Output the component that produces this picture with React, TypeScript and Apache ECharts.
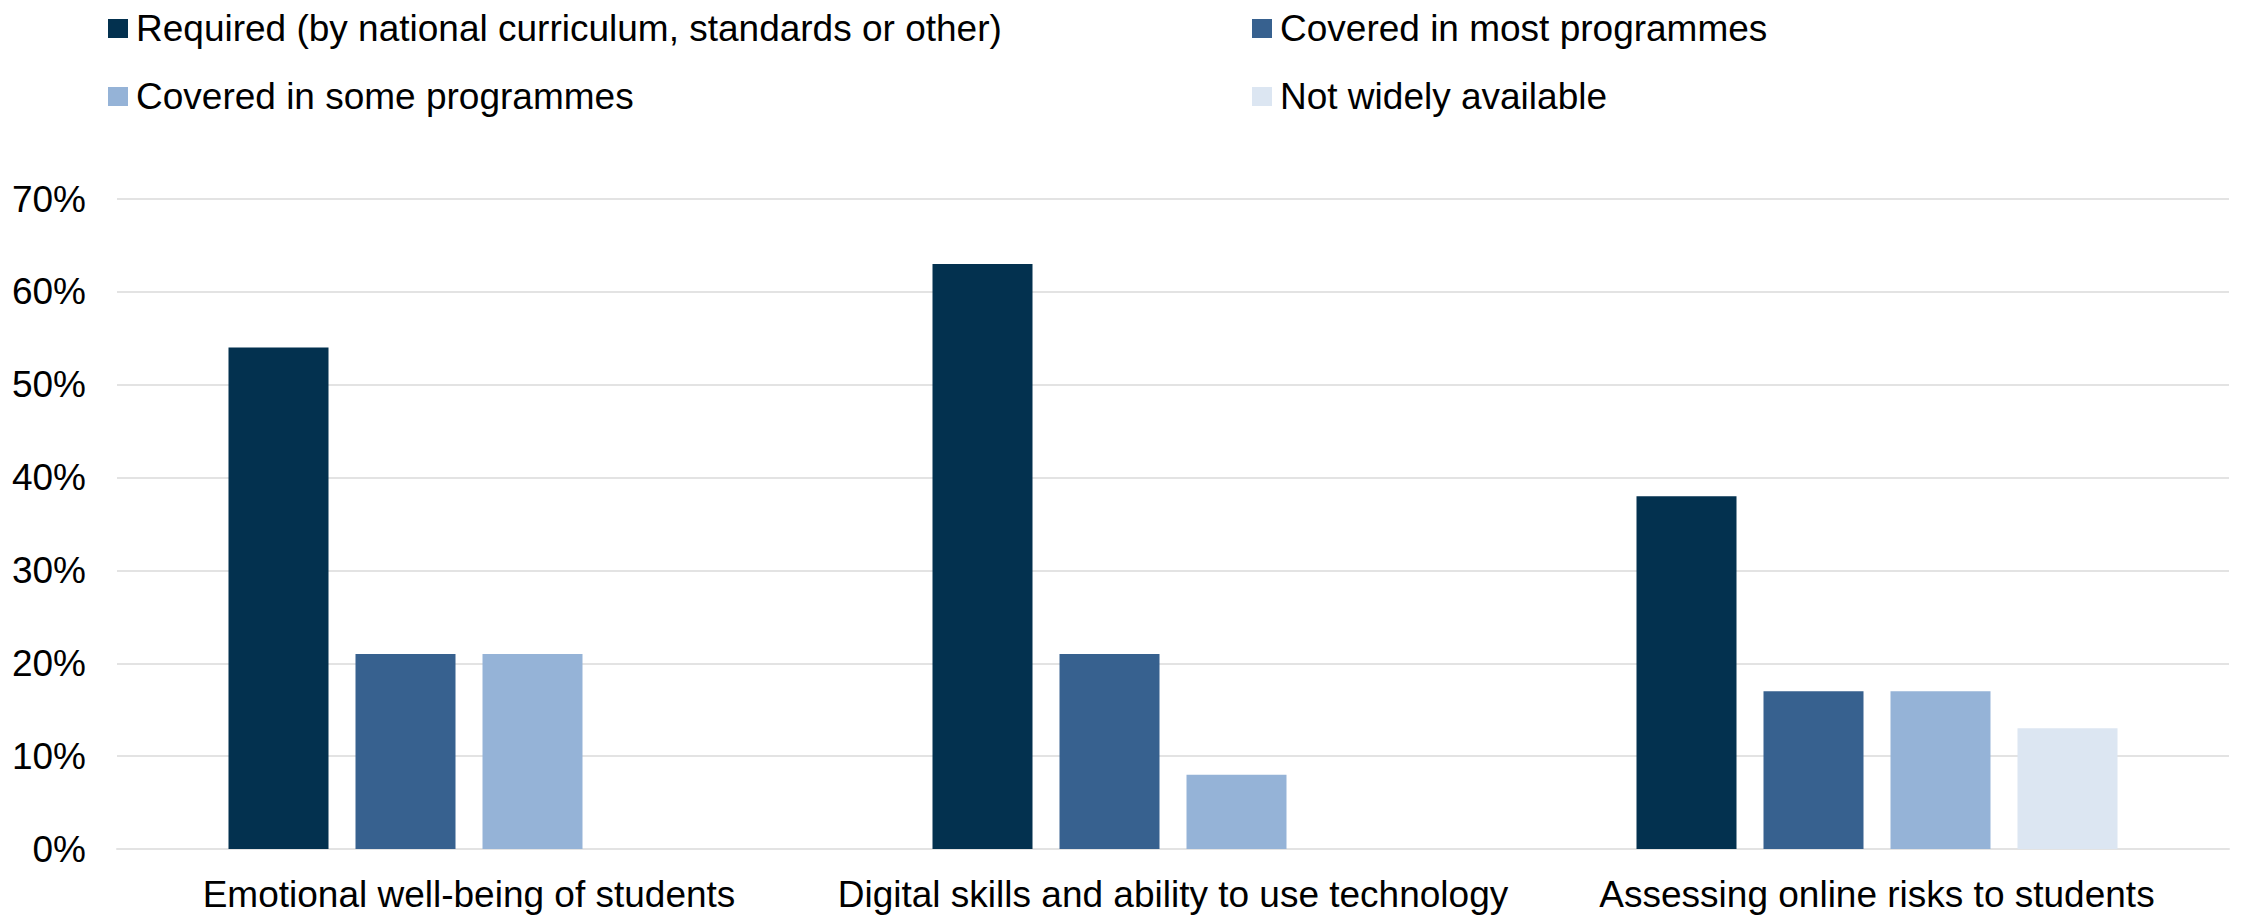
import React, { useEffect, useRef } from "react";
import * as echarts from "echarts";

const categories = [
  "Emotional well-being of students",
  "Digital skills and ability to use technology",
  "Assessing online risks to students",
];
const seriesNames = [
  "Required (by national curriculum, standards or other)",
  "Covered in most programmes",
  "Covered in some programmes",
  "Not widely available",
];
const required = [54, 63, 38];
const coveredMost = [21, 21, 17];
const coveredSome = [21, 8, 17];
const notWidely: (number | null)[] = [null, null, 13];
const colors = ["#03314F", "#37618F", "#95B3D7", "#DCE6F2"];

export default function App() {
  const ref = useRef<HTMLDivElement>(null);
  useEffect(() => {
    if (!ref.current) return;
    const chart = echarts.init(ref.current, null, { renderer: "svg" });
    const font = "'Liberation Sans', Arial, sans-serif";
    const values = [required, coveredMost, coveredSome, notWidely];
    const legendPos = [
      { left: 108, top: 10 },
      { left: 1252, top: 10 },
      { left: 108, top: 78 },
      { left: 1252, top: 78 },
    ];
    chart.setOption({
      animation: false,
      backgroundColor: "#ffffff",
      textStyle: { fontFamily: font },
      legend: seriesNames.map((n, i) => ({
        data: [n],
        left: legendPos[i].left,
        top: legendPos[i].top,
        icon: "rect",
        itemWidth: 20,
        itemHeight: 19,
        itemGap: 0,
        padding: 0,
        selectedMode: false,
        textStyle: {
          fontSize: 37,
          color: "#000",
          fontFamily: font,
          padding: [0, 0, 0, 3],
        },
      })),
      grid: { left: 117, right: 12, top: 199, bottom: 73, containLabel: false },
      xAxis: {
        type: "category",
        data: categories,
        axisLine: { show: true, lineStyle: { color: "#E3E3E3", width: 2 } },
        axisTick: { show: false },
        axisLabel: {
          interval: 0,
          fontSize: 37,
          color: "#000",
          margin: 27,
          fontFamily: font,
        },
      },
      yAxis: {
        type: "value",
        min: 0,
        max: 70,
        interval: 10,
        axisLine: { show: false },
        axisTick: { show: false },
        axisLabel: {
          formatter: "{value}%",
          fontSize: 37,
          color: "#000",
          margin: 31,
          fontFamily: font,
        },
        splitLine: { lineStyle: { color: "#E3E3E3", width: 2 } },
      },
      series: seriesNames.map((n, i) => ({
        name: n,
        type: "bar",
        data: values[i],
        barWidth: 100,
        barGap: "27%",
        itemStyle: { color: colors[i] },
      })),
    });
    return () => chart.dispose();
  }, []);
  return (
    <div
      ref={ref}
      style={{ position: "absolute", left: 0, top: 0, width: 2241, height: 922 }}
    />
  );
}
